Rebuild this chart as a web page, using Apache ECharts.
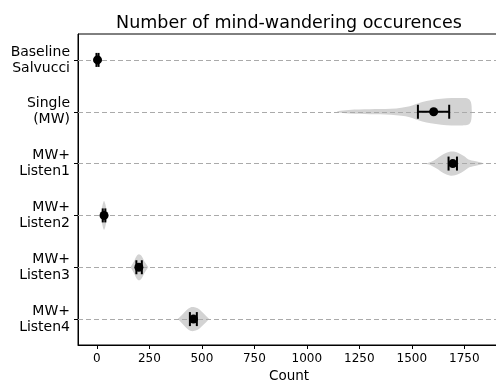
<!DOCTYPE html>
<html>
<head>
<meta charset="utf-8">
<script src="https://cdn.jsdelivr.net/npm/echarts@6/dist/echarts.min.js"></script>
<style>
  html, body { margin: 0; padding: 0; background: #fff; }
  #chart { width: 496px; height: 383px; }
</style>
</head>
<body>
<div id="chart"></div>
<script>
// Conditions, top to bottom
const conditions = [
  'Baseline\nSalvucci',
  'Single\n(MW)',
  'MW+\nListen1',
  'MW+\nListen2',
  'MW+\nListen3',
  'MW+\nListen4'
];

// Mean count per condition and its confidence interval
const means   = [3, 1604, 1695, 34, 200, 460];
const ciLow   = [-2, 1529, 1675, 28, 188, 443];
const ciHigh  = [8, 1678, 1715, 40, 214, 476];

// Density profiles: count values and relative density (1 = full violin width)
const densityCounts = [
  [-6, 0, 3, 7, 12],
  [1146, 1200, 1300, 1400, 1450, 1490, 1520, 1550, 1590, 1640, 1690, 1740, 1770, 1782, 1786],
  [1560, 1590, 1620, 1650, 1680, 1700, 1720, 1750, 1770, 1800, 1830, 1845],
  [12, 20, 28, 34, 40, 48, 56],
  [160, 175, 190, 200, 212, 228, 245],
  [385, 405, 425, 445, 460, 480, 500, 520, 535]
];
const densityValues = [
  [0, 0.25, 0.3, 0.25, 0],
  [0.03, 0.09, 0.12, 0.14, 0.19, 0.26, 0.37, 0.47, 0.56, 0.63, 0.66, 0.66, 0.62, 0.45, 0],
  [0, 0.08, 0.25, 0.45, 0.57, 0.58, 0.52, 0.35, 0.2, 0.12, 0.05, 0],
  [0, 0.2, 0.55, 0.7, 0.55, 0.2, 0],
  [0, 0.25, 0.55, 0.63, 0.55, 0.25, 0],
  [0, 0.2, 0.42, 0.56, 0.58, 0.52, 0.35, 0.15, 0]
];

// Count axis tick labels
const countTicks = [0, 250, 500, 750, 1000, 1250, 1500, 1750];

const FONT = 'DejaVu Sans';

const chart = echarts.init(document.getElementById('chart'), null, { renderer: 'canvas' });

const violinData = conditions.map((c, i) => [i]);
const errorData = conditions.map((c, i) => [means[i], i, ciLow[i], ciHigh[i]]);

function renderViolin(params, api) {
  const i = api.value(0);
  const vals = densityCounts[i];
  const dens = densityValues[i];
  const half = api.size([0, 1])[1] * 0.4;
  const top = [], bottom = [];
  for (let k = 0; k < vals.length; k++) {
    const p = api.coord([vals[k], i]);
    top.push([p[0], p[1] - dens[k] * half]);
    bottom.push([p[0], p[1] + dens[k] * half]);
  }
  const pts = top.concat(bottom.reverse());
  return {
    type: 'polygon',
    shape: { points: pts, smooth: 0.35 },
    style: { fill: '#d3d3d3', stroke: null }
  };
}

function renderErrorBar(params, api) {
  const i = api.value(1);
  const c = api.coord([api.value(0), i]);
  const lo = api.coord([api.value(2), i]);
  const hi = api.coord([api.value(3), i]);
  const cap = 7;
  const st = { stroke: '#000', lineWidth: 2 };
  return {
    type: 'group',
    children: [
      { type: 'line', shape: { x1: lo[0], y1: c[1], x2: hi[0], y2: c[1] }, style: st },
      { type: 'line', shape: { x1: lo[0], y1: c[1] - cap, x2: lo[0], y2: c[1] + cap }, style: st },
      { type: 'line', shape: { x1: hi[0], y1: c[1] - cap, x2: hi[0], y2: c[1] + cap }, style: st },
      { type: 'circle', shape: { cx: c[0], cy: c[1], r: 4.5 }, style: { fill: '#000' } }
    ]
  };
}

chart.setOption({
  animation: false,
  backgroundColor: '#fff',
  textStyle: { fontFamily: FONT },
  title: {
    text: 'Number of mind-wandering occurences',
    left: 284,
    top: 9,
    textAlign: 'center',
    textStyle: { fontFamily: FONT, fontSize: 17.5, fontWeight: 'normal', color: '#000' }
  },
  grid: {
    left: 78, top: 34, right: -4, bottom: 38,
    outerBoundsMode: 'none',
    containLabel: false,
    show: true, borderColor: '#000', borderWidth: 1
  },
  xAxis: {
    type: 'value',
    min: -90,
    max: 1920,
    name: 'Count',
    nameLocation: 'middle',
    nameGap: 24,
    nameTextStyle: { fontFamily: FONT, fontSize: 13.5, color: '#000' },
    axisLine: { show: true, onZero: false, lineStyle: { color: '#000' } },
    axisTick: { show: true, length: 4, lineStyle: { color: '#000' }, customValues: countTicks },
    axisLabel: {
      fontFamily: FONT, fontSize: 12, color: '#000', margin: 8,
      customValues: countTicks,
      formatter: v => String(v)
    },
    splitLine: { show: false }
  },
  yAxis: {
    type: 'category',
    data: conditions,
    inverse: true,
    axisLine: { show: true, onZero: false, lineStyle: { color: '#000' } },
    axisTick: { show: true, alignWithLabel: true, length: 4, lineStyle: { color: '#000' } },
    axisLabel: { fontFamily: FONT, fontSize: 14, lineHeight: 16, color: '#000', margin: 8, align: 'right' },
    splitLine: { show: false }
  },
  series: [
    {
      type: 'custom',
      name: 'density',
      renderItem: renderViolin,
      data: violinData,
      encode: { y: 0 },
      z: 2,
      silent: true
    },
    {
      type: 'line',
      name: 'guides',
      data: [],
      symbol: 'none',
      markLine: {
        silent: true,
        symbol: 'none',
        label: { show: false },
        lineStyle: { type: [5, 3], color: '#aaaaaa', width: 1.2 },
        data: conditions.map(c => ({ yAxis: c }))
      }
    },
    {
      type: 'custom',
      name: 'mean',
      renderItem: renderErrorBar,
      data: errorData,
      encode: { x: 0, y: 1 },
      z: 10,
      silent: true
    }
  ]
});
</script>
</body>
</html>
